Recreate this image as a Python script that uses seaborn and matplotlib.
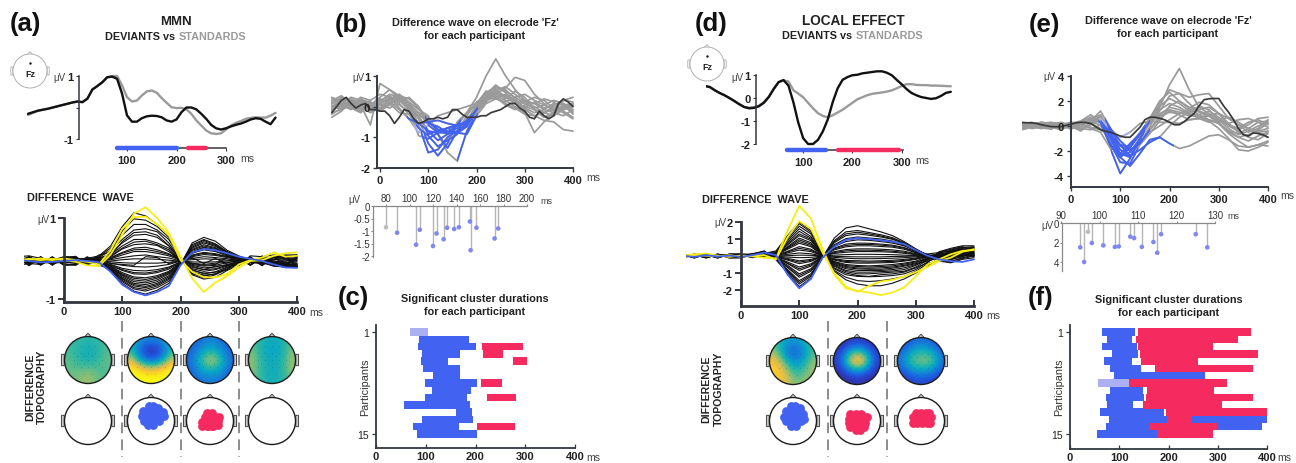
import numpy as np
import pandas as pd
import matplotlib
matplotlib.use("Agg")
import matplotlib.pyplot as plt
from matplotlib.colors import LinearSegmentedColormap
from matplotlib.patches import Circle, Rectangle, Polygon, FancyBboxPatch
import seaborn as sns

sns.set_theme(style="white")
plt.rcParams["font.family"] = ["Liberation Sans", "DejaVu Sans"]

W, H = 1296, 464
BLUE, RED, PALE = "#4262F2", "#F52B60", "#ABB0F2"
GRAY, DARK, YEL = "#9A9A9A", "#3A3A3A", "#F6EE14"
AXC = "#33373F"

# ---------- grand averages (10 ms grid) ----------
t_avg = list(range(-100, 401, 10))
a_dev = [-.2,-.15,-.1,-.07,-.04,0,.04,.08,.12,.16,.19,.17,.28,.57,.68,.8,.96,.98,.91,.44,-.25,-.45,-.45,-.34,-.28,-.26,-.27,-.31,-.41,-.45,-.38,-.15,0,0,-.06,-.2,-.36,-.55,-.66,-.7,-.66,-.6,-.55,-.51,-.45,-.38,-.34,-.36,-.45,-.53,-.32]
a_std = [-.24,-.17,-.11,-.07,-.04,0,.04,.08,.12,.16,.19,.17,.28,.57,.68,.8,.96,1.0,1.0,.7,.33,.19,.22,.38,.51,.54,.47,.3,.15,.01,-.02,-.01,-.06,-.2,-.41,-.57,-.73,-.82,-.84,-.82,-.7,-.57,-.49,-.43,-.36,-.33,-.31,-.32,-.32,-.26,-.17]
d_dev = [.52,.48,.34,.22,.12,0,-.13,-.27,-.39,-.45,-.43,-.36,-.21,.04,.39,.69,.78,.54,-.18,-1.07,-1.75,-2.0,-2.0,-1.82,-1.45,-.93,-.18,.42,.79,.91,.99,1.01,1.07,1.1,1.13,1.16,1.16,1.1,.99,.79,.6,.39,.22,.12,.04,0,-.04,-.01,.09,.22,.27]
d_std = [.52,.48,.34,.22,.12,0,-.13,-.27,-.39,-.42,-.4,-.33,-.18,.06,.39,.69,.76,.72,.34,.19,.03,-.21,-.45,-.66,-.78,-.84,-.75,-.63,-.51,-.36,-.21,-.06,.03,.12,.18,.21,.24,.28,.33,.42,.52,.6,.6,.57,.56,.56,.54,.54,.53,.52,.51]
b_mean = [-.2,0,.2,.3,.1,-.05,.05,.1,-.1,-.1,-.15,-.15,-.3,-.55,-.35,-.1,-.15,-.4,-.55,-.5,-.4,-.4,-.35,-.4,-.35,-.1,-.1,-.25,-.35,-.35,-.35,-.3,-.3,-.2,-.15,-.1,0,.1,.1,-.05,-.15,-.35,-.4,-.15,-.3,-.4,-.3,.1,.25,.15,0]
e_mean = [.27,.26,.25,.2,.1,.02,-.05,-.06,-.05,.05,.15,.25,.3,.28,.2,-.05,-.3,-.42,-.5,-.65,-.8,-.9,-.9,-.5,-.1,.5,.7,.7,.62,.5,.3,.1,.1,.35,.7,1.0,1.6,2.1,2.18,2.2,2.2,1.6,1.1,.5,-.2,-.7,-.8,-.55,-.6,-.7,-.9]

a_windows = [(80, 200, BLUE), (224, 260, RED)]
d_windows = [(68, 146, BLUE), (171, 295, RED)]

# ---------- butterfly (a), 20 ms grid ----------
t_fa = list(range(-80, 401, 20))
a_yellow = [
 [.02,.05,.02,.05,.02,-.02,-.1,-.12,.15,.6,1.1,1.25,1.0,.65,.1,-.4,-.72,-.5,-.35,-.15,0,.02,.12,.18,.2],
 [-.03,.03,.06,.02,.06,.02,-.02,-.08,.25,.75,1.02,1.03,.85,.6,.02,-.25,-.38,-.38,-.3,-.08,.02,.08,.2,.1,.12],
]
a_blue = [.03,0,-.03,-.02,0,.02,0,-.03,-.25,-.55,-.72,-.8,-.72,-.58,-.1,.2,.28,.25,.18,.1,.05,0,-.08,-.15,-.16]
a_black = [
 [.05,.08,.02,.04,.06,.05,.06,.12,.35,.8,1.12,1.05,.85,.6,.05,-.3,-.35,-.3,-.2,-.05,.02,.05,.1,.1,.12],
 [.02,.05,.06,0,.03,.04,.02,.1,.3,.6,.85,.85,.72,.5,.05,-.28,-.4,-.32,-.18,-.08,0,.06,.08,.12,.1],
 [-.03,.02,.05,.03,.01,.03,.05,.08,.25,.5,.72,.75,.68,.42,.03,-.25,-.33,-.3,-.15,-.05,.02,.03,.1,.05,.08],
 [.04,-.02,.02,.05,0,0,.03,.05,.18,.42,.6,.62,.55,.35,.02,-.2,-.3,-.25,-.14,-.03,0,.02,.05,.09,.05],
 [0,.03,-.02,.02,.04,.02,0,.06,.15,.35,.5,.5,.42,.3,0,-.18,-.24,-.2,-.12,-.04,-.02,0,.04,.02,.06],
 [.03,0,.03,-.02,.01,-.02,.02,.03,.1,.28,.38,.4,.36,.22,.01,-.15,-.2,-.18,-.1,0,.01,-.02,.02,.07,0],
 [-.02,.02,0,.02,-.03,.01,-.03,.02,.08,.2,.3,.32,.26,.17,0,-.1,-.16,-.14,-.08,-.02,-.02,.02,-.03,0,.03],
 [.01,-.03,.02,-.01,.02,-.01,0,0,.05,.14,.22,.22,.18,.12,.02,-.08,-.12,-.1,-.04,.01,0,-.02,0,-.04,-.02],
 [-.04,.01,-.03,0,-.02,0,-.01,.01,.03,.08,.12,.14,.1,.07,0,-.05,-.08,-.05,-.03,-.01,-.03,0,-.04,-.02,-.05],
 [.02,-.01,-.01,-.03,0,-.03,.02,-.02,0,.03,.05,.05,.04,.02,-.01,-.02,-.03,-.02,0,.03,.02,-.03,-.02,-.06,.01],
 [-.01,-.02,.01,.01,-.01,.01,-.02,-.01,-.02,-.04,-.05,-.05,-.05,-.03,0,.03,.05,.04,.02,-.02,-.03,-.05,-.07,-.08,-.06],
 [.02,0,-.02,-.01,.02,-.02,0,-.03,-.05,-.1,-.13,-.14,-.12,-.08,0,.06,.1,.08,.05,0,-.01,-.04,-.05,-.1,-.08],
 [-.03,-.01,0,.03,0,.02,.01,-.02,-.08,-.17,-.22,-.23,-.2,-.14,-.02,.1,.15,.13,.08,.03,.02,-.02,-.1,-.07,-.11],
 [.01,.03,-.03,-.02,-.04,-.03,-.02,-.04,-.1,-.22,-.3,-.31,-.27,-.19,-.03,.14,.2,.17,.1,.04,-.02,-.06,-.06,-.12,-.09],
 [-.05,-.02,.02,.01,.03,.03,.03,0,-.12,-.27,-.37,-.39,-.34,-.24,-.04,.18,.26,.22,.12,.05,.03,.01,-.08,-.05,-.13],
 [.03,.01,-.04,-.04,-.01,-.04,-.04,-.05,-.15,-.32,-.44,-.47,-.4,-.28,-.05,.22,.32,.27,.15,.06,-.04,-.04,-.12,-.1,-.07],
 [-.02,-.04,.03,.03,.02,.04,.01,-.03,-.17,-.37,-.52,-.55,-.48,-.34,-.06,.27,.38,.31,.17,.08,.04,.03,-.03,-.13,-.1],
 [.04,.02,-.01,-.05,-.03,-.02,-.05,-.06,-.2,-.42,-.58,-.62,-.55,-.4,-.07,.32,.45,.36,.2,.09,.01,-.02,-.09,-.08,-.14],
 [-.04,.04,.01,.02,.05,.02,.04,-.02,-.22,-.48,-.65,-.7,-.62,-.47,-.08,.38,.5,.4,.22,.1,-.03,-.03,-.05,-.12,-.12],
 [.02,-.03,-.04,-.03,-.02,.03,-.04,-.04,-.24,-.52,-.7,-.77,-.68,-.52,-.09,.42,.55,.46,.25,.12,.03,.04,-.07,-.11,-.15],
 [.1,.12,.06,.02,.1,.08,-.05,.14,.2,.7,.98,.95,.8,.55,.08,-.32,-.42,-.38,-.22,-.1,.12,.1,.14,.12,.14],
 [-.1,-.06,-.08,.08,-.08,-.07,.08,-.05,.12,.45,.66,.68,.6,.36,.04,-.22,-.28,-.26,-.2,.06,-.1,.12,-.1,-.14,-.12],
 [.08,-.08,.1,-.1,.08,.1,-.07,.08,.12,.3,.44,.46,.38,.26,-.03,-.12,-.2,-.12,-.1,-.1,.08,-.1,.12,.14,.14],
 [-.08,.1,-.08,.09,-.1,-.08,.1,-.06,.06,.18,.26,.27,.22,.15,.04,-.06,-.1,-.08,.08,.08,-.08,.08,-.1,-.12,.1],
 [.12,-.1,.09,-.06,.1,.06,-.08,.07,-.06,-.08,-.1,.1,.08,-.06,.03,.08,-.06,.06,-.07,-.1,.1,-.1,.11,.1,-.14],
 [-.09,.07,-.1,.08,-.07,-.1,.06,-.09,-.1,-.2,-.27,-.28,-.24,-.16,-.02,.12,.18,.15,.1,.08,-.09,.09,-.12,-.14,.08],
 [.07,-.11,.08,-.09,.09,.09,-.09,.06,-.13,-.3,-.4,-.43,-.37,-.26,-.05,.2,.3,.24,.14,-.07,.07,-.11,.09,-.12,-.1],
 [-.12,.09,-.07,.1,-.1,-.06,.08,-.1,-.16,-.34,-.48,-.51,-.44,-.3,-.06,.25,.35,.29,.16,.07,-.1,.08,-.1,.05,-.13],
 [.1,-.07,.1,-.08,.06,.11,-.1,.05,-.19,-.4,-.55,-.59,-.52,-.37,-.07,.3,.42,.34,.18,-.06,.06,-.07,.13,-.09,.05],
 [-.07,.11,-.09,.07,-.09,-.09,.07,-.08,-.21,-.45,-.62,-.66,-.58,-.43,-.08,.35,.48,.38,.21,.09,-.09,.06,-.08,-.15,-.09],
]

# ---------- butterfly (d), 20 ms grid ----------
t_fd = list(range(-100, 401, 20))
d_yellow = [
 [.05,.1,.15,.02,-.05,.03,-.02,-.1,-.15,1.5,2.95,2.2,.4,-1.1,-1.9,-2.05,-2.15,-2.3,-2.15,-1.85,-1.2,-.5,-.2,.1,.3,.35],
 [-.1,.05,.02,-.02,.05,-.05,.03,.05,-.2,1.1,2.05,1.6,.2,-1.0,-1.8,-2.1,-1.75,-1.5,-1.4,-1.2,-.95,-.65,-.3,-.1,.25,.4],
]
d_blue = [0,-.05,.05,-.03,.02,-.05,.05,.2,.05,-1.1,-1.9,-1.35,-.1,.55,.95,1.05,1.0,.92,.85,.7,.35,.02,-.2,-.3,-.35,-.2]
d_black = [
 [0,.05,.1,.05,0,.08,.1,.15,.3,1.2,2.0,1.5,.2,-.9,-1.4,-1.65,-1.75,-1.75,-1.6,-1.35,-1.0,-.6,-.1,.25,.45,.5],
 [.05,0,.05,.1,.05,.02,.05,.1,.2,1.0,1.75,1.3,.15,-.75,-1.1,-1.2,-1.22,-1.2,-1.15,-1.05,-.8,-.35,0,.3,.5,.55],
 [-.05,.05,0,.05,0,.05,.03,.08,.15,.8,1.45,1.05,.1,-.6,-.92,-1.05,-1.05,-1.0,-.95,-.9,-.65,-.25,.05,.2,.4,.45],
 [.03,-.03,.08,0,.05,0,.06,.05,.1,.65,1.2,.9,.08,-.5,-.75,-.85,-.85,-.85,-.8,-.7,-.5,-.15,.1,.25,.35,.35],
 [0,.02,.03,.04,-.02,.04,.02,.06,.08,.5,.95,.7,.06,-.4,-.62,-.7,-.72,-.7,-.65,-.55,-.4,-.1,.08,.2,.3,.38],
 [.02,0,-.02,.03,.02,.02,.04,.03,.05,.4,.75,.55,.04,-.32,-.5,-.56,-.58,-.55,-.5,-.42,-.3,-.05,.12,.15,.22,.28],
 [-.03,.03,.04,0,0,-.02,0,.02,.03,.28,.55,.4,.03,-.24,-.38,-.42,-.42,-.4,-.38,-.3,-.2,0,.1,.18,.25,.2],
 [.04,-.02,0,-.03,.03,.03,-.02,0,.02,.18,.35,.26,.02,-.16,-.26,-.28,-.3,-.28,-.25,-.2,-.12,.02,.08,.12,.15,.24],
 [-.02,.01,.03,.02,-.03,0,.02,.03,.01,.1,.18,.13,.01,-.08,-.13,-.16,-.16,-.15,-.13,-.1,-.05,.05,.05,.08,.2,.1],
 [.01,-.03,-.03,-.02,.01,-.03,-.03,-.02,0,.02,.05,.04,0,-.02,-.04,-.05,-.05,-.05,-.03,-.02,0,.02,.03,.05,.1,.14],
 [-.04,.02,.02,.03,0,.02,.03,0,-.02,-.06,-.1,-.08,0,.05,.08,.1,.1,.09,.08,.05,.02,0,-.02,0,.05,.02],
 [.02,-.01,-.04,-.01,.02,-.04,-.01,.04,-.03,-.14,-.28,-.2,-.01,.15,.22,.26,.26,.25,.22,.16,.08,0,-.06,-.05,0,.06],
 [.03,.01,.05,-.03,-.02,.01,.06,.08,-.05,-.24,-.45,-.32,-.02,.25,.38,.42,.42,.4,.36,.28,.14,.02,-.1,-.12,.08,-.02],
 [-.01,-.03,-.01,.02,.04,-.01,.02,.12,-.08,-.35,-.65,-.46,-.03,.36,.54,.6,.6,.56,.52,.4,.2,-.02,-.15,-.08,.03,.1],
 [.02,.03,.03,.05,-.01,.03,.08,.15,-.1,-.45,-.85,-.6,-.04,.46,.7,.76,.75,.7,.64,.5,.25,.01,-.2,-.15,.1,.02],
 [-.03,0,-.03,-.01,.03,-.02,.05,.18,-.13,-.55,-1.05,-.75,-.05,.56,.85,.95,.92,.85,.76,.6,.3,.04,-.12,-.22,-.02,.15],
 [.04,-.02,.06,.02,-.03,.02,.1,.22,-.15,-.68,-1.25,-.9,-.06,.66,1.02,1.12,1.06,1.0,.88,.68,.34,.02,-.18,-.1,.06,-.05],
 [.01,.03,0,-.04,.02,-.02,.12,.25,-.18,-.8,-1.45,-1.05,-.07,.78,1.2,1.3,1.22,1.12,.98,.74,.38,.05,-.1,-.18,.12,.08],
 [-.02,.02,.04,.02,-.01,.04,.1,.3,-.2,-.92,-1.65,-1.2,-.08,.9,1.42,1.5,1.38,1.25,1.08,.78,.4,0,-.15,-.05,.04,.18],
 [.03,-.03,-.02,.03,.04,-.03,.14,.28,-.22,-1.0,-1.8,-1.3,-.09,1.05,1.65,1.78,1.6,1.42,1.2,.85,.42,.03,-.08,-.12,.15,.02],
 [.12,-.1,.14,-.08,.1,.12,-.08,.12,.25,1.1,1.9,1.4,.18,-.85,-1.25,-1.45,-1.5,-1.45,-1.35,-1.2,-.9,-.45,-.25,-.35,-.1,.05],
 [-.12,.1,-.1,.12,-.1,-.1,.1,-.05,.18,.9,1.6,1.15,.12,-.7,-1.0,-1.15,-1.2,-1.1,-1.05,-.95,-.7,-.4,.25,.45,.6,.6],
 [.08,-.12,.1,-.1,.12,.06,-.1,.1,.12,.72,1.3,.98,.09,-.55,-.85,-.95,-.95,-.92,-.88,-.8,-.55,-.2,.15,.35,.5,.42],
 [-.1,.08,-.12,.08,-.08,-.08,.12,-.08,.09,.55,1.05,.78,.07,-.45,-.68,-.76,-.78,-.78,-.72,-.6,-.45,-.3,-.1,.1,.3,.5],
 [.1,-.06,.08,-.12,.1,.1,-.08,.08,.06,.45,.85,.62,.05,-.36,-.56,-.62,-.65,-.62,-.58,-.48,-.35,-.2,.22,.4,.55,.32],
 [-.08,.12,-.06,.1,-.12,-.1,.08,-.1,.04,.24,.45,.33,.02,-.2,-.32,-.35,-.36,-.34,-.32,-.26,-.16,-.05,-.05,-.2,-.05,.22],
 [.06,-.1,.12,-.06,.08,.08,.02,.05,-.04,-.2,-.36,-.26,-.02,.2,.3,.34,.34,.32,.28,.22,.1,.12,.2,.3,.4,.3],
 [-.1,.06,-.1,.09,-.06,-.06,.05,.12,-.09,-.42,-.75,-.53,-.03,.42,.62,.68,.68,.64,.58,.46,.22,.08,-.25,-.3,-.15,0],
 [.11,-.08,.06,-.11,.1,.12,.1,.22,-.14,-.62,-1.15,-.82,-.06,.6,.95,1.04,.98,.92,.82,.64,.32,.1,-.3,-.4,-.2,-.1],
 [-.06,.09,-.09,.06,-.09,-.09,.12,.24,-.19,-.86,-1.55,-1.12,-.08,.84,1.3,1.4,1.3,1.18,1.02,.76,.4,.06,-.05,.22,.35,.42],
]

# ---------- participants (20 ms grid) ----------
t_part = list(range(-100, 401, 20))
b_part = [
 [.2,.35,.1,-.05,-.1,.05,.15,-.1,-.4,-.85,-.6,-.3,-.2,-.1,0,.1,.5,.4,.3,.1,0,-.1,-.2,-.1,0,-.2],
 [-.1,.05,.2,.15,-.05,.1,.3,.2,-.1,-.95,-1.05,-.85,-.7,-.6,-.55,-.1,.4,.6,.5,.3,.1,0,-.2,-.3,-.1,0],
 [.1,.3,.15,0,-.2,-.05,.25,.35,.1,-.6,-1.5,-1.4,-1.0,-.8,-.6,-.1,.3,.55,.3,.2,-.1,-.3,-.2,0,.1,-.1],
 [-.2,-.1,.1,.25,.1,-.1,.1,.2,.05,-.3,-.9,-.8,-.7,-.6,-.2,.1,.35,.5,.35,.1,.2,.1,-.1,-.2,-.3,-.1],
 [0,.2,.05,-.1,.05,.3,.55,.35,0,-.4,-1.2,-1.6,-1.2,-.5,-.2,.3,1.0,1.55,1.0,.55,.2,-.1,-.35,-.2,.05,.1],
 [-.35,-.15,.15,.05,-.6,.75,.55,.25,-.1,-.3,-.8,-1.1,-.9,-.6,-.2,.05,.45,.65,.55,.25,-.05,-.2,-.1,.1,.05,-.15],
 [.15,.05,-.1,.2,.15,-.05,.2,.05,-.15,-.2,-.35,-.9,-1.35,-.8,-.3,.15,.3,.4,.6,.95,.85,.4,.1,-.15,-.05,.1],
 [-.05,.2,.25,.1,-.1,.15,.4,.3,.1,-.2,-.6,-.85,-.85,-.6,-.5,-.1,.25,.35,.2,0,-.2,-.85,-.5,-.2,-.1,.05],
 [.25,.1,-.05,-.15,0,.2,.35,.1,-.25,-.3,-.4,-.75,-.9,-.8,-.55,0,.4,.7,.45,.15,.1,-.05,.05,.2,.1,-.25],
 [-.15,.1,.3,.2,.05,-.15,.05,.35,.25,-.05,-.55,-.65,-.85,-.7,-.45,.05,.5,.3,.1,-.05,-.25,-.3,-.45,-.5,-.75,-.8],
 [.05,-.1,.05,.3,.2,.4,.3,-.05,-.4,-.55,-.5,-.45,-.55,-.62,-.5,-.05,.3,.25,.15,.3,.4,.2,.05,-.1,.2,.3],
 [-.25,-.05,.2,.05,-.15,.1,.25,.4,.15,-.1,-.3,-.9,-1.5,-1.77,-.8,-.2,.15,.5,.65,.4,.15,.3,.2,-.05,-.2,-.4],
 [.1,.25,-.05,-.2,.1,.05,-.05,.15,.3,0,-.5,-.75,-.8,-.87,-.65,-.1,.35,.45,.25,.5,.3,-.1,-.35,-.25,0,.05],
 [-.1,0,.1,.15,0,.25,.1,-.2,-.25,-.7,-.95,-1.3,-1.1,-.9,-.4,-.15,.2,.3,.05,-.1,.05,.1,.25,.15,-.15,-.35],
 [.3,.15,0,-.1,.15,-.1,.2,.25,-.05,-.55,-.8,-.85,-.7,-.85,-.9,-.3,.1,.25,.4,.2,-.05,.15,-.05,.05,.2,.15],
]
e_part = [
 [.1,.2,.1,0,.15,-.1,-.3,.2,.6,-.3,-.9,-.5,.2,.4,.3,.3,.2,.5,.6,.5,.2,-.4,-.6,-.2,.3,.4],
 [-.2,.1,.25,.1,-.2,-.05,.15,.5,.3,-.8,-2.2,-2.5,-1.1,-.5,0,.5,1.0,1.2,1.2,.9,.3,-.5,-.9,-.7,-.4,-.2],
 [.2,0,-.2,.15,.25,0,-.4,.3,.8,-.4,-2.45,-1.6,-.6,.6,1.8,2.9,2.6,1.8,1.1,.8,.4,.1,-.2,.3,.5,.1],
 [-.1,.15,.3,.2,-.1,.2,.4,.9,.3,-1.4,-2.9,-3.0,-1.5,-.6,.4,1.6,2.0,1.5,1.3,1.5,1.0,.2,-.5,-.8,-.3,.2],
 [.3,.2,-.15,-.25,.1,.25,-.2,-.3,.1,-1.3,-2.2,-1.4,-.6,.2,.9,1.5,1.3,.9,.7,.9,1.0,.6,.1,-.2,-.5,-.4],
 [-.3,-.1,.2,.3,.1,-.15,.1,.4,1.2,-.2,-1.6,-2.0,-1.2,-.3,.6,1.2,.9,.5,.6,.8,.2,-.6,-1.2,-1.7,-1.5,-1.2],
 [.15,.3,.05,-.1,-.3,.1,.3,.2,-.2,-.7,-1.5,-2.4,-1.3,-.1,1.5,3.3,4.6,2.9,1.5,1.0,.5,-.2,-.7,-.4,0,.3],
 [.05,-.2,-.1,.2,.25,0,-.3,.1,.5,-1.0,-2.5,-3.2,-2.2,-1.1,-.9,-1.4,-1.8,-1.6,-1.2,-.8,-.7,-1.1,-1.6,-1.7,-1.5,-1.6],
 [-.15,.1,.15,-.05,.1,.3,.2,-.2,-.5,-1.8,-3.8,-2.6,-1.0,.2,1.2,2.4,2.6,2.3,2.5,2.6,1.6,.6,.1,-.5,-.2,.5],
 [.25,.05,-.2,.1,.3,.05,-.1,.5,.9,-.8,-2.4,-2.1,-1.0,.3,1.0,1.3,1.1,.8,.9,1.2,.7,0,-.4,-.9,-1.1,-.6],
 [0,.25,.15,-.15,.05,-.25,.1,.3,.1,-1.5,-2.5,-1.7,-.5,.5,1.6,2.2,1.8,1.2,.7,.4,-.2,-1.0,-1.9,-2.0,-1.7,-1.3],
 [-.25,-.05,.1,.25,-.1,.1,.35,.7,.4,-.6,-1.9,-2.4,-1.9,-1.3,-.9,0,.7,1.1,1.6,1.3,.5,.2,.5,.6,.3,-.1],
 [.1,-.1,.3,.05,-.2,.2,.1,-.1,-.3,-.9,-1.5,-1.7,-.7,.4,1.3,1.8,1.5,1.0,.6,.3,.5,.7,.3,-.2,-.6,-.9],
 [-.05,.2,0,-.2,.2,.05,-.25,.2,.7,-.2,-1.2,-1.9,-1.4,-.3,.8,1.1,1.0,1.4,1.9,1.7,1.0,.1,-.3,.1,.6,.7],
 [.2,.05,-.1,.15,0,-.1,.2,.6,.3,-1.6,-2.5,-1.7,-.6,.6,2.0,2.7,2.0,1.4,.9,.5,.2,-.4,-.9,-1.2,-.8,-.5],
]
e_blue_start = [57,65,76,65,86,70,82,70,82,73,75,61,80,74,55]
e_blue_end = [120,131,125,136,139,125,144,210,148,150,128,180,160,160,150]

# ---------- clusters per participant ----------
rows = list(range(1, 16))
c_blue_start = [68,87,84,93,91,95,115,99,113,98,56,160,93,75,83]
c_blue_end = [104,187,201,168,145,168,168,204,191,182,189,193,194,166,203]
c_red_row = [3,4,5,8,10,14]
c_red_start = [213,215,275,212,223,203]
c_red_end = [295,256,304,254,281,279]
f_blue_row = [1,2,3,4,5,6,7,8,9,10,11,12,13,13,14,14,15]
f_blue_start = [65,76,65,86,70,82,90,57,82,73,75,61,80,247,74,299,55]
f_blue_end = [131,125,136,139,125,144,274,120,148,150,128,190,196,400,160,389,176]
f_red_row = [1,2,3,4,5,6,8,9,10,11,12,13,14,15]
f_red_start = [138,134,138,142,144,173,120,156,154,148,194,196,160,176]
f_red_end = [367,342,291,381,260,372,318,292,372,309,399,247,299,290]

# ---------- lollipops ----------
b_lag = [80,89.4,105.6,108.7,120,123,129,132,138,142,151.4,152,157,172.4,175.5]
b_amp = [-.85,-1.07,-1.55,-.95,-1.6,-1.1,-1.33,-.87,-.92,-.85,-.62,-1.77,-.87,-1.3,-.9]
e_lag = [95,96,97,98,101,104,105,108,109,111,114,115,116,125,128]
e_amp = [2.5,4,.9,2.05,2.3,2.45,2.4,1.4,1.55,2.45,1.95,3.05,1.15,1.15,2.5]

# ---------- topographies: top row to bottom row, 0-1 on the colour scale ----------
topo_a1 = [[.5,.5,.5,.48,.5,.5,.52],[.52,.5,.46,.44,.46,.52,.54],[.54,.5,.46,.44,.46,.52,.56],[.55,.52,.48,.46,.48,.54,.56],[.56,.54,.54,.54,.54,.54,.56],[.58,.58,.6,.62,.58,.54,.54],[.58,.58,.62,.66,.58,.56,.54]]
topo_a2 = [[.38,.36,.3,.28,.3,.36,.38],[.44,.3,.16,.09,.15,.3,.44],[.54,.32,.15,.09,.14,.32,.54],[.74,.5,.32,.26,.32,.5,.74],[.93,.82,.68,.64,.68,.82,.92],[1,.98,.93,.9,.93,.98,1],[1,1,1,1,1,1,1]]
topo_a3 = [[.2,.22,.26,.3,.26,.22,.2],[.2,.26,.34,.38,.35,.26,.2],[.22,.32,.46,.54,.48,.32,.22],[.24,.38,.56,.66,.58,.4,.24],[.22,.34,.45,.52,.47,.34,.22],[.2,.28,.34,.36,.34,.28,.2],[.2,.22,.26,.28,.26,.22,.2]]
topo_a4 = [[.54,.5,.44,.42,.44,.5,.54],[.56,.48,.42,.4,.42,.5,.58],[.6,.5,.42,.4,.43,.52,.62],[.62,.52,.44,.41,.44,.54,.64],[.62,.52,.45,.42,.46,.54,.64],[.6,.52,.45,.42,.46,.52,.62],[.58,.52,.46,.44,.46,.52,.58]]
topo_d1 = [[.5,.46,.38,.34,.38,.46,.54],[.58,.46,.3,.24,.28,.42,.54],[.7,.54,.32,.24,.28,.42,.56],[.82,.68,.46,.34,.36,.5,.62],[.85,.8,.6,.46,.46,.56,.66],[.85,.84,.72,.54,.54,.6,.66],[.82,.8,.74,.62,.6,.64,.64]]
topo_d2 = [[.02,.04,.09,.12,.09,.04,.02],[.05,.14,.28,.33,.28,.14,.05],[.1,.28,.55,.7,.55,.28,.1],[.1,.33,.7,.86,.7,.33,.1],[.06,.2,.4,.5,.4,.2,.06],[.02,.08,.14,.18,.14,.08,.02],[.01,.02,.05,.06,.05,.02,.01]]
topo_d3 = [[.14,.18,.22,.24,.22,.18,.14],[.18,.26,.36,.4,.36,.26,.18],[.24,.38,.5,.54,.52,.4,.24],[.26,.44,.56,.58,.6,.46,.26],[.2,.32,.42,.44,.42,.32,.2],[.12,.18,.24,.26,.24,.18,.12],[.06,.08,.12,.14,.12,.08,.06]]
elec_x = [-.6,-.3,0,.3,.6,-.6,-.3,0,.3,.6,-.6,-.3,0,.3,.6,-.3,0,.3,-.45,-.15,.15,.45,-.45,-.15,.15,.45,-.15,.15]
elec_y = [.3,.3,.3,.3,.3,0,0,0,0,0,-.3,-.3,-.3,-.3,-.3,.6,.6,.6,.15,.15,.15,.15,-.15,-.15,-.15,-.15,-.6,-.6]

# ---------- cluster electrodes on the scalp ----------
blob_a2_x = [-.1,.1,.3,-.35,-.12,.1,.3,.52,-.38,-.15,.1,.3,.55,-.28,-.08,.12,.35,-.12,.08]
blob_a2_y = [.62,.62,.55,.42,.42,.42,.42,.4,.2,.2,.2,.2,.22,0,0,.02,.02,-.18,-.18]
blob_a3_x = [-.12,.1,-.2,0,.22,.38,-.33,-.1,.12,.36,-.32,-.1,.12,.35,-.12,.1]
blob_a3_y = [.34,.34,.15,.15,.15,.18,-.05,-.05,-.05,-.02,-.2,-.2,-.2,-.16,-.2,-.2]
blob_d1_x = [-.1,.1,.28,-.3,-.1,.1,.3,.44,-.38,-.15,.1,.3,.45,-.3,-.1,.12,.32,-.08,.12]
blob_d1_y = [.62,.62,.56,.44,.42,.42,.42,.3,.18,.2,.2,.2,.1,-.02,0,0,-.02,-.2,-.2]
blob_d2_x = [-.28,-.05,.18,-.35,-.12,.1,.32,.42,-.35,-.12,.1,.32,-.28,-.08,.14,.3,-.05,.12]
blob_d2_y = [.3,.3,.3,.1,.1,.1,.1,.15,-.08,-.08,-.08,-.08,-.26,-.26,-.26,-.26,-.4,-.4]
blob_d3_x = [-.2,0,.2,.36,-.32,-.12,.1,.3,.43,-.36,-.15,.05,.25,.4]
blob_d3_y = [.34,.34,.34,.34,.16,.16,.16,.16,.16,-.08,-.08,-.08,-.08,-.08]

# ===================== drawing =====================
fig = plt.figure(figsize=(W / 100, H / 100), dpi=100, facecolor="white")


def T(x, y, s, size=8, weight="bold", color="#222222", ha="center", rot=0):
    fig.text(x / W, 1 - y / H, s, fontsize=size, fontweight=weight, color=color,
             ha=ha, va="center", rotation=rot)


def make_ax(box, xmap, ymap):
    l, t, r, b = box
    ax = fig.add_axes([l / W, 1 - b / H, (r - l) / W, (b - t) / H])
    ax.patch.set_alpha(0)
    ax.set_axisbelow(False)
    p0, v0, p1, v1 = xmap
    sx = (v1 - v0) / (p1 - p0)
    ax.set_xlim(v0 + (l - p0) * sx, v0 + (r - p0) * sx)
    p0, v0, p1, v1 = ymap
    sy = (v1 - v0) / (p1 - p0)
    ax.set_ylim(v0 + (b - p0) * sy, v0 + (t - p0) * sy)
    for s in ("top", "right"):
        ax.spines[s].set_visible(False)
    return ax


def style_ticks(ax, lw=1.2, size=8, color=AXC, length=3):
    for s in ("left", "bottom"):
        ax.spines[s].set_linewidth(lw)
        ax.spines[s].set_color(color)
    ax.tick_params(axis="both", length=length, width=lw * .7, color=color, labelsize=size,
                   labelcolor="#222222", pad=2, left=True, bottom=True)
    for lab in ax.get_xticklabels() + ax.get_yticklabels():
        lab.set_fontweight("bold")


def long_form(times, table):
    return pd.DataFrame([{"t": tt, "v": v, "id": i}
                         for i, row in enumerate(table) for tt, v in zip(times, row)])


def draw(ax, times, table, color, lw):
    sns.lineplot(data=long_form(times, table), x="t", y="v", units="id", estimator=None,
                 color=color, lw=lw, legend=False, ax=ax, errorbar=None)
    ax.set_xlabel("")
    ax.set_ylabel("")


def avg_panel(box, xmap, ymap, dev, std, yticks, ylabels, spx, sb, bar_y, bar, windows):
    ax = make_ax(box, xmap, ymap)
    draw(ax, t_avg, [std], GRAY, 1.7)
    draw(ax, t_avg, [dev], "#111111", 1.7)
    ax.spines["left"].set_position(("data", spx))
    ax.spines["left"].set_bounds(*sb)
    ax.spines["bottom"].set_position(("data", bar_y))
    ax.spines["bottom"].set_bounds(*bar)
    ax.set_yticks(yticks, ylabels)
    ax.set_xticks([100, 200, 300], ["100", "200", "300"])
    style_ticks(ax, lw=1.1, length=2)
    ax.tick_params(axis="x", direction="out", pad=3)
    for a, b, c in windows:
        ax.plot([a, b], [bar_y, bar_y], color=c, lw=3.2, solid_capstyle="round", zorder=5)
    return ax


def wave_ticks(ax):
    ax.set_xticks([0, 100, 200, 300, 400], ["0", "100", "200", "300", "400"])


def butterfly(box, xmap, ymap, times, black, yellow, blue, yticks, ylabels, top):
    ax = make_ax(box, xmap, ymap)
    draw(ax, times, black, "#111111", .8)
    draw(ax, times, yellow, YEL, 1.3)
    draw(ax, times, [blue], BLUE, 1.3)
    ax.spines["left"].set_position(("data", 0))
    ax.spines["left"].set_bounds(ax.get_ylim()[0], top)
    ax.spines["bottom"].set_bounds(0, 400)
    wave_ticks(ax)
    ax.set_yticks(yticks, ylabels)
    style_ticks(ax, lw=2.0, length=4)
    ax.tick_params(axis="x", direction="in", pad=3)
    return ax


def participants(box, xmap, ymap, table, mean, starts, ends, pale_i, yticks, ylabels, spx, sb):
    ax = make_ax(box, xmap, ymap)
    draw(ax, t_part, table, GRAY, 1.25)
    for i, row in enumerate(table):
        col = PALE if i == pale_i else BLUE
        n0 = len(ax.lines)
        sns.lineplot(x=t_part, y=row, color=col, lw=1.25, ax=ax, legend=False, errorbar=None)
        ax.lines[n0].set_clip_path(Rectangle((starts[i], -50), ends[i] - starts[i], 100,
                                             transform=ax.transData))
    draw(ax, t_avg, [mean], DARK, 1.25)
    ax.spines["left"].set_position(("data", spx))
    ax.spines["left"].set_bounds(*sb)
    ax.spines["bottom"].set_bounds(spx, 400)
    wave_ticks(ax)
    ax.set_yticks(yticks, ylabels)
    style_ticks(ax, lw=1.4, length=3)
    return ax


def lollipop(box, xmap, ymap, lag, amp, ticks, ylab, pale_i, xbound, yb):
    ax = make_ax(box, xmap, ymap)
    ax.vlines(lag, 0, amp, color="#B5B5B5", lw=1.0)
    cols = [("#BDBDBD" if i == pale_i else "#7E88F2") for i in range(len(lag))]
    sns.scatterplot(x=lag, y=amp, c=cols, s=11, linewidth=0, ax=ax, legend=False, zorder=4)
    ax.spines["bottom"].set_visible(False)
    ax.spines["top"].set_visible(True)
    ax.spines["top"].set_position(("data", 0))
    ax.spines["top"].set_bounds(*xbound)
    ax.spines["top"].set_color("#888888")
    ax.spines["top"].set_linewidth(.9)
    ax.spines["left"].set_position(("data", xbound[0]))
    ax.spines["left"].set_bounds(*yb)
    ax.spines["left"].set_color("#888888")
    ax.spines["left"].set_linewidth(.9)
    ax.xaxis.tick_top()
    ax.set_xticks(ticks, [str(t) for t in ticks])
    ax.set_yticks(ylab[0], ylab[1])
    ax.tick_params(axis="both", labelsize=7, length=1.5, width=.7, color="#888888",
                   labelcolor="#333333", pad=.5, left=True, top=True, bottom=False)
    return ax


def durations(box, xmap, ymap, blue_r, blue_s, blue_e, red_r, red_s, red_e, pale):
    ax = make_ax(box, xmap, ymap)
    for r, s, e in zip(blue_r, blue_s, blue_e):
        ax.barh(r, e - s, left=s, height=1.02, color=PALE if r == pale else BLUE,
                edgecolor="none", zorder=2 if r != pale else 3)
    for r, s, e in zip(red_r, red_s, red_e):
        ax.barh(r, e - s, left=s, height=1.02, color=RED, edgecolor="none", zorder=2.5)
    ax.spines["left"].set_position(("data", 0))
    ax.spines["bottom"].set_bounds(0, 400)
    wave_ticks(ax)
    ax.set_yticks([1, 15], ["1", "15"])
    style_ticks(ax, lw=1.3, length=3)
    ax.tick_params(axis="x", direction="in", pad=2)
    for lab in ax.get_yticklabels():
        lab.set_fontweight("normal")
        lab.set_fontsize(7.5)
    return ax


parula = LinearSegmentedColormap.from_list("parula_like", [
    "#352A87", "#2A3FC8", "#1A62E0", "#1485D4", "#06A7C6", "#2FB7A2", "#7DBF7B",
    "#C3BE5E", "#F2C13A", "#FBDD22", "#F9FB0E"])


def head(cx, cy, grid=None, blob=None, color=None, r=23.5, edge="#1c1c1c", lw=1.0):
    m = r * 1.35
    ax = fig.add_axes([(cx - m) / W, 1 - (cy + m) / H, 2 * m / W, 2 * m / H])
    ax.set_xlim(-1.35, 1.35)
    ax.set_ylim(-1.35, 1.35)
    ax.axis("off")
    ax.patch.set_alpha(0)
    for sgn in (-1, 1):
        ax.add_patch(FancyBboxPatch((sgn * 1.07 - .04, -.22), .08, .44, boxstyle="round,pad=0.02",
                                    fc="#C8C8C8", ec="#444444", lw=.7, zorder=1))
    ax.add_patch(Polygon([(-.16, .97), (0, 1.14), (.16, .97)], fc="#DDDDDD", ec="#444444", lw=.7, zorder=1))
    ax.add_patch(Circle((0, 0), 1, fc="white", ec="none", zorder=1.5))
    if grid is not None:
        im = ax.imshow(grid, extent=(-1, 1, -1, 1), cmap=parula, vmin=0, vmax=1,
                       interpolation="bicubic", zorder=2)
        im.set_clip_path(Circle((0, 0), 1, transform=ax.transData))
        ax.set_xlim(-1.35, 1.35)
        ax.set_ylim(-1.35, 1.35)
        ax.scatter(elec_x, elec_y, s=.25, c="#25406a", linewidths=0, alpha=.35, zorder=3)
    if blob is not None:
        ax.scatter(blob[0], blob[1], s=40, c=color, linewidths=0, zorder=3)
    ax.add_patch(Circle((0, 0), 1, fc="none", ec=edge, lw=lw, zorder=4))
    return ax


def mini_head(cx, cy):
    ax = head(cx, cy, r=17, edge="#B0B0B0", lw=.7)
    for p in ax.patches[:3]:
        p.set_edgecolor("#BBBBBB")
        p.set_facecolor("white")
    ax.scatter([0], [.47], s=3, c="#111111", linewidths=0, zorder=5)
    ax.text(0, -.15, "Fz", fontsize=6.5, fontweight="bold", ha="center", va="center", color="#222222")


def dashes(x):
    fig.add_artist(plt.Line2D([x / W, x / W], [1 - 322 / H, 1 - 458 / H], color="#8C8C8C", lw=1.4,
                              ls=(0, (5.5, 3.2))))


# ---- panel a ----
avg_panel((24, 70, 290, 175), (77.5, 0, 127, 100), (77, 1, 140, -1), a_dev, a_std,
          [1, 0, -1], ["1", "", "-1"], 3, (-1, 1), -1.29, (80, 300), a_windows)
butterfly((24, 205, 298, 303), (64, 0, 297, 400), (219, 1, 262, 0), t_fa, a_black, a_yellow, a_blue,
          [1, -.88], ["1", "-1"], 1)
# ---- panel b ----
participants((328, 55, 574, 169), (380, 0, 573, 400), (108, 0, 139, -1), b_part, b_mean,
             c_blue_start, c_blue_end, 0, [1, 0, -1, -2], ["1", "0", "-1", "-2"], -6, (-2, 1))
lollipop((355, 190, 540, 265), (386, 80, 527, 200), (207, 0, 257, -2), b_lag, b_amp,
         [80, 100, 120, 140, 160, 180, 200],
         ([0, -.5, -1, -1.5, -2], ["0", "-0.5", "-1", "-1.5", "-2"]), 0, (69, 200), (-2.05, 0))
# ---- panel c ----
durations((350, 326, 576, 449), (376, 0, 575, 400), (333, 1, 435, 15), rows, c_blue_start, c_blue_end,
          c_red_row, c_red_start, c_red_end, 1)
# ---- panel d ----
avg_panel((706, 70, 955, 175), (754, 0, 803.2, 100), (99, 0, 145, -2), d_dev, d_std,
          [1, 0, -1, -2], ["1", "0", "-1", "-2"], 4, (-2, 1), -2.26, (68, 302), d_windows)
butterfly((686, 205, 975, 307), (741, 0, 974, 400), (223, 2, 257, 0), t_fd, d_black, d_yellow, d_blue,
          [2, 1, -1, -2], ["2", "1", "-1", "-2"], 2)
# ---- panel e ----
participants((1022, 55, 1269, 188), (1071, 0, 1268, 400), (127, 0, 102, 2), e_part, e_mean,
             e_blue_start, e_blue_end, 0, [4, 2, 0, -2, -4], ["4", "2", "0", "-2", "-4"], 0, (-4.95, 4))
lollipop((1040, 205, 1225, 280), (1061, 90, 1215, 130), (224, 0, 263, 4), e_lag, e_amp,
         [90, 100, 110, 120, 130], ([0, 2, 4], ["0", "2", "4"]), 2, (90.3, 130), (0, 4.9))
# ---- panel f ----
durations((1045, 326, 1268, 450), (1070, 0, 1267, 400), (333, 1, 435, 15), f_blue_row, f_blue_start, f_blue_end,
          f_red_row, f_red_start, f_red_end, 8)

# ---- heads ----
for cx, g in zip((88, 151, 210, 272), (topo_a1, topo_a2, topo_a3, topo_a4)):
    head(cx, 361, grid=g)
head(88, 422)
head(151, 422, blob=(blob_a2_x, blob_a2_y), color=BLUE)
head(210, 422, blob=(blob_a3_x, blob_a3_y), color=RED)
head(272, 422)
for cx, g in zip((793, 857, 921), (topo_d1, topo_d2, topo_d3)):
    head(cx, 362, grid=g)
head(793, 422, blob=(blob_d1_x, blob_d1_y), color=BLUE)
head(857, 422, blob=(blob_d2_x, blob_d2_y), color=RED)
head(921, 422, blob=(blob_d3_x, blob_d3_y), color=RED)
for x in (122, 181, 239, 828, 887):
    dashes(x)
mini_head(30, 72)
mini_head(707, 65)

# ---- text ----
for x, y, s in [(25, 24, "(a)"), (351, 25, "(b)"), (353, 298, "(c)"),
                (711, 24, "(d)"), (1044, 25, "(e)"), (1041, 298, "(f)")]:
    T(x, y, s, size=18.5, color="#111111")
T(176, 22, "MMN", size=9.5)
T(853, 21, "LOCAL EFFECT", size=9.8)
T(178, 37, "DEVIANTS vs ", size=7.8, ha="right")
T(179, 37, "STANDARDS", size=7.8, color=GRAY, ha="left")
T(855, 36, "DEVIANTS vs ", size=7.8, ha="right")
T(856, 36, "STANDARDS", size=7.8, color=GRAY, ha="left")
T(27, 198, "DIFFERENCE  WAVE", size=7.8, ha="left")
T(702, 200, "DIFFERENCE  WAVE", size=7.8, ha="left")
for x, y, s in [(475, 23, "Difference wave on elecrode 'Fz'"), (475, 36, "for each participant"),
                (1168, 21, "Difference wave on elecrode 'Fz'"), (1168, 34, "for each participant"),
                (475, 299, "Significant cluster durations"), (475, 312, "for each participant"),
                (1169, 300, "Significant cluster durations"), (1169, 313, "for each participant")]:
    T(x, y, s, size=7.85)
for x, y, s in [(30, 387, "DIFFERENCE"), (42, 387, "TOPOGRAPHY"), (706, 389, "DIFFERENCE"), (719, 389, "TOPOGRAPHY")]:
    T(x, y, s, size=7.6, rot=90)
for x, y in [(247, 159), (922, 161), (316, 313), (993, 316), (593, 178), (1287, 196), (593, 458), (1284, 458)]:
    T(x, y, "ms", size=7.6, weight="normal", color="#444444")
for x, y in [(59, 78), (737, 78), (43, 220), (720, 223), (358, 78), (1049, 77)]:
    T(x, y, "μV", size=7, weight="normal", color="#444444")
T(354, 200, "μV", size=7, weight="normal", color="#444444")
T(1047, 226, "μV", size=7, weight="normal", color="#444444")
T(546, 201, "ms", size=6.5, weight="normal", color="#444444")
T(1233, 217, "ms", size=6.5, weight="normal", color="#444444")
T(365, 387, "Participants", size=7.8, weight="normal", color="#333333", rot=90)
T(1059, 387, "Participants", size=7.8, weight="normal", color="#333333", rot=90)

fig.savefig("out.png", dpi=100, facecolor="white")
